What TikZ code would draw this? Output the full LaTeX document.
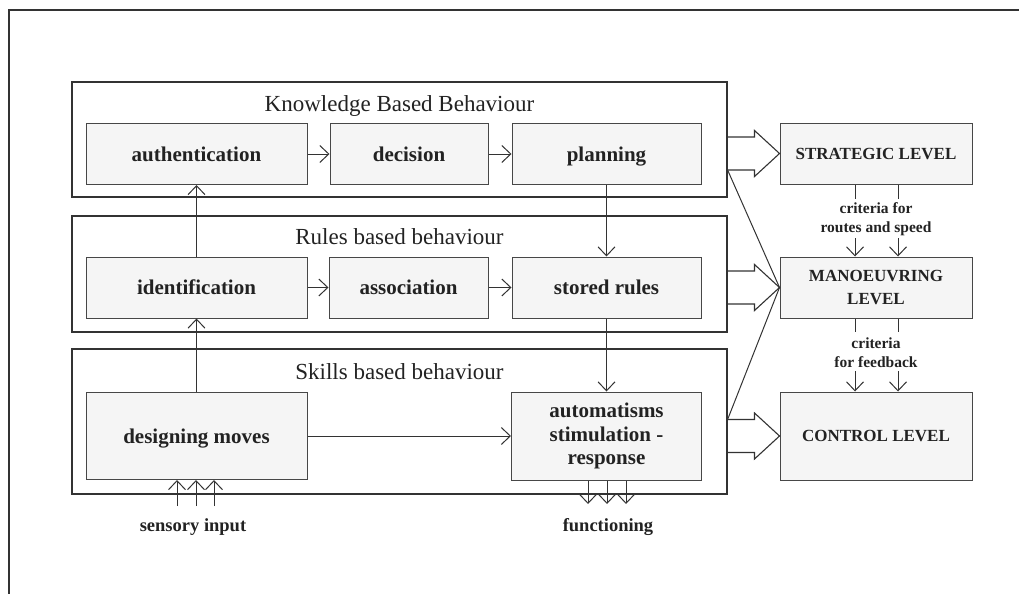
\documentclass[tikz,border=0pt]{standalone}
\usepackage{fontspec}
\setmainfont{Liberation Serif}
\usetikzlibrary{arrows.meta,calc}
\definecolor{ln}{HTML}{333333}
\definecolor{bx}{HTML}{F5F5F5}
\definecolor{tx}{HTML}{222222}
\tikzset{
 pageframe/.style={draw=ln, line width=1.3pt},
 outerbox/.style={draw=ln, line width=1.2pt, minimum width=655pt, inner sep=0pt},
 boxbase/.style={draw=ln!90, fill=bx, line width=1pt, inner sep=0pt, align=center, text=tx, font=\fontsize{21}{23.5}\selectfont\bfseries},
 inbox/.style={boxbase, text depth=0pt},
 capbase/.style={boxbase, font=\fontsize{17}{23}\selectfont\bfseries},
 capbox/.style={capbase, text depth=0pt},
 ttl/.style={text=tx, font=\fontsize{23}{26}\selectfont, inner sep=0pt, text depth=0pt},
 arr/.style={draw=ln, line width=1pt, -{Straight Barb[length=9pt,width=17pt]}},
 thinline/.style={draw=ln, line width=1pt},
 blk/.style={draw=ln, line width=1.1pt, line join=miter},
 smalltxt/.style={text=tx, font=\fontsize{15.5}{19}\selectfont\bfseries, align=center, inner sep=0pt},
 iotxt/.style={text=tx, font=\fontsize{18.5}{22}\selectfont\bfseries, inner sep=0pt}
}
\newcommand\blockarr[2]{%
 \draw[blk] ($(#1.east |- #2.west)+(0,-16.5)$) -- ($(#2.west)+(-25,-16.5)$) -- ($(#2.west)+(-25,-23)$) -- (#2.west) -- ($(#2.west)+(-25,23)$) -- ($(#2.west)+(-25,16.5)$) -- ($(#1.east |- #2.west)+(0,16.5)$);}
\begin{document}
\begin{tikzpicture}[x=1pt,y=-1pt]
\useasboundingbox (0,0) rectangle (1019,594);
\draw[pageframe] (1019,10) -- (9,10) -- (9,594);
% outer groups
\node[outerbox, minimum height=115pt] (K) at (399.5,139.5) {};
\node[outerbox, minimum height=116pt] (R) at (399.5,274) {};
\node[outerbox, minimum height=145pt] (S) at (399.5,421.5) {};
\node[ttl] (Kt) at (399.5,104) {Knowledge Based Behaviour};
\node[ttl] (Rt) at (399.5,237) {Rules based behaviour};
\node[ttl] (St) at (399.5,372) {Skills based behaviour};
% inner boxes
\node[inbox, minimum width=221pt, minimum height=61pt] (auth) at (196.5,154) {authentication};
\node[inbox, minimum width=158pt, minimum height=61pt] (dec) at (409,154) {decision};
\node[inbox, minimum width=189pt, minimum height=61pt] (plan) at (606.5,154) {planning};
\node[inbox, minimum width=221pt, minimum height=61pt] (ident) at (196.5,287.5) {identification};
\node[inbox, minimum width=159pt, minimum height=61pt] (assoc) at (408.5,287.5) {association};
\node[inbox, minimum width=189pt, minimum height=61pt] (stored) at (606.5,287.5) {stored rules};
\node[inbox, minimum width=221pt, minimum height=87pt] (design) at (196.5,436) {designing moves};
\node[boxbase, minimum width=190pt, minimum height=88pt] (auto) at (606.5,436) {automatisms\\stimulation -\\response};
% right column
\node[capbox, minimum width=192pt, minimum height=61pt] (strat) at (876,153.5) {STRATEGIC LEVEL};
\node[capbase, minimum width=192pt, minimum height=61pt] (man) at (876,287.5) {MANOEUVRING\\LEVEL};
\node[capbox, minimum width=192pt, minimum height=88pt] (ctrl) at (876,436) {CONTROL LEVEL};
% thin arrows
\draw[arr] (auth) -- (dec);
\draw[arr] (dec) -- (plan);
\draw[arr] (ident) -- (assoc);
\draw[arr] (assoc) -- (stored);
\draw[arr] (design.east) -- (design.east -| auto.west);
\draw[arr] (design) -- (ident);
\draw[arr] (ident) -- (auth);
\draw[arr] (plan) -- (stored);
\draw[arr] (stored) -- (auto);
% sensory input / functioning
\foreach \x/\n in {177/s1,196/s2,214/s3}{
  \coordinate (\n) at (\x,506);
  \draw[arr] (\n) -- (\n |- design.south);
}
\foreach \x/\n in {588/f1,607/f2,626/f3}{
  \coordinate (\n) at (\x,504);
  \draw[arr] (\n |- auto.south) -- (\n);
}
\node[iotxt] (sens) at (193,527) {sensory input};
\node[iotxt] (func) at (608,527) {functioning};
% criteria
\foreach \x/\n in {855/a,898/b}{
  \coordinate (ct\n) at (\x,199);
  \coordinate (cb\n) at (\x,238);
  \draw[thinline] (strat.south -| ct\n) -- (ct\n);
  \draw[arr] (cb\n) -- (cb\n |- man.north);
  \coordinate (dt\n) at (\x,332);
  \coordinate (db\n) at (\x,371);
  \draw[thinline] (man.south -| dt\n) -- (dt\n);
  \draw[arr] (db\n) -- (db\n |- ctrl.north);
}
\node[smalltxt] (crit1) at (876,219.5) {criteria for\\routes and speed};
\node[smalltxt] (crit2) at (876,353) {criteria\\for feedback};
% block arrows
\blockarr{K}{strat}
\blockarr{R}{man}
\blockarr{S}{ctrl}
\draw[thinline] ($(K.east |- strat.west)+(0,16.5)$) -- (man.west);
\draw[thinline] ($(S.east |- ctrl.west)+(0,-16.5)$) -- (man.west);
\end{tikzpicture}
\end{document}
